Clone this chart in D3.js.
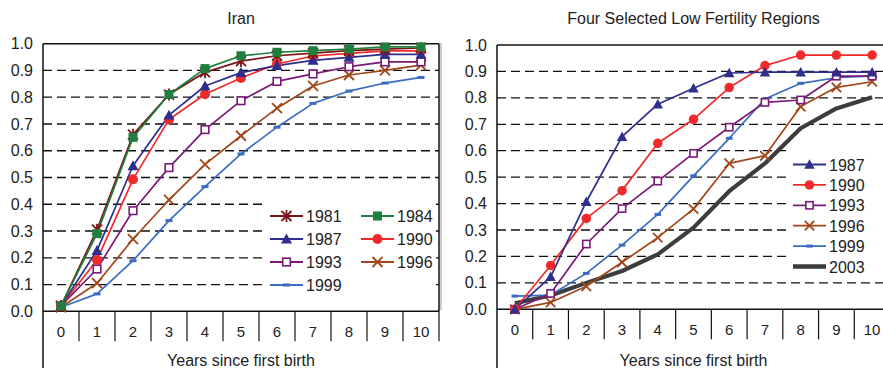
<!DOCTYPE html>
<html>
<head>
<meta charset="utf-8">
<script src="https://cdn.jsdelivr.net/npm/d3@7"></script>
<style>
  body { margin: 0; background: #fff; }
  svg { display: block; font-family: "Liberation Sans", Arial, sans-serif; }
</style>
</head>
<body>
<div id="chart"></div>
<script>
// Data.
const years = [0, 1, 2, 3, 4, 5, 6, 7, 8, 9, 10];
const yTicks = [0, 0.1, 0.2, 0.3, 0.4, 0.5, 0.6, 0.7, 0.8, 0.9, 1.0];

// Iran.
const iran1981 = [0.02, 0.305, 0.66, 0.81, 0.893, 0.935, 0.955, 0.965, 0.974, 0.98, 0.984];
const iran1984 = [0.02, 0.29, 0.65, 0.81, 0.907, 0.955, 0.968, 0.974, 0.98, 0.988, 0.988];
const iran1987 = [0.02, 0.227, 0.544, 0.733, 0.842, 0.892, 0.918, 0.938, 0.949, 0.96, 0.96];
const iran1990 = [0.02, 0.192, 0.493, 0.717, 0.811, 0.872, 0.924, 0.954, 0.964, 0.973, 0.973];
const iran1993 = [0.02, 0.158, 0.376, 0.537, 0.679, 0.787, 0.859, 0.887, 0.914, 0.932, 0.932];
const iran1996 = [0.015, 0.105, 0.27, 0.416, 0.549, 0.656, 0.759, 0.842, 0.883, 0.9, 0.92];
const iran1999 = [0.015, 0.065, 0.189, 0.339, 0.466, 0.588, 0.688, 0.777, 0.823, 0.853, 0.874];

// Four selected low fertility regions.
const low1987 = [0.0, 0.123, 0.407, 0.653, 0.776, 0.836, 0.894, 0.897, 0.897, 0.897, 0.897];
const low1990 = [0.0, 0.166, 0.344, 0.449, 0.628, 0.719, 0.839, 0.922, 0.962, 0.962, 0.962];
const low1993 = [0.0, 0.06, 0.247, 0.381, 0.485, 0.59, 0.689, 0.783, 0.792, 0.882, 0.882];
const low1996 = [0.0, 0.026, 0.087, 0.178, 0.271, 0.38, 0.552, 0.581, 0.767, 0.84, 0.861];
const low1999 = [0.05, 0.054, 0.136, 0.243, 0.359, 0.505, 0.647, 0.796, 0.855, 0.876, 0.883];
const low2003 = [0.023, 0.052, 0.1, 0.145, 0.208, 0.309, 0.447, 0.552, 0.685, 0.76, 0.802];

const colors = {
  1981: '#7d1416', 1984: '#1f7f3e', 1987: '#2e2e8c', 1990: '#f02a2a',
  1993: '#7a1a78', 1996: '#a1471b', 1999: '#3a6cc2', 2003: '#3d3d3d'
};
const markers = {
  1981: 'star', 1984: 'square', 1987: 'triangle', 1990: 'circle',
  1993: 'open', 1996: 'cross', 1999: 'dash', 2003: 'none'
};

const width = 883;
const height = 368;

const svg = d3.select('#chart')
  .append('svg')
  .attr('width', width)
  .attr('height', height);

function drawMarker(g, type, color, x, y, s) {
  if (type === 'square') {
    g.append('rect').attr('x', x - 4.5 * s).attr('y', y - 4.5 * s)
      .attr('width', 9 * s).attr('height', 9 * s).attr('fill', color);
  } else if (type === 'circle') {
    g.append('circle').attr('cx', x).attr('cy', y).attr('r', 5 * s).attr('fill', color);
  } else if (type === 'triangle') {
    const r = 5.5 * s;
    g.append('path')
      .attr('d', `M${x},${y - r}L${x + r},${y + r * 0.8}L${x - r},${y + r * 0.8}Z`)
      .attr('fill', color);
  } else if (type === 'open') {
    g.append('rect').attr('x', x - 3.8 * s).attr('y', y - 3.8 * s)
      .attr('width', 7.6 * s).attr('height', 7.6 * s)
      .attr('fill', '#fff').attr('stroke', color).attr('stroke-width', 1.6);
  } else if (type === 'cross') {
    const r = 5 * s;
    g.append('path')
      .attr('d', `M${x - r},${y - r}L${x + r},${y + r}M${x - r},${y + r}L${x + r},${y - r}`)
      .attr('stroke', color).attr('stroke-width', 1.8);
  } else if (type === 'star') {
    const r = 5 * s;
    g.append('path')
      .attr('d', `M${x - r},${y - r}L${x + r},${y + r}M${x - r},${y + r}L${x + r},${y - r}M${x},${y - r * 1.2}L${x},${y + r * 1.2}`)
      .attr('stroke', color).attr('stroke-width', 1.8);
  } else if (type === 'dash') {
    g.append('rect').attr('x', x - 3.5 * s).attr('y', y - 1.5)
      .attr('width', 7 * s).attr('height', 3).attr('fill', color);
  }
}

function panel(opt) {
  const x = d3.scaleBand().domain(years).range(opt.xRange).padding(0);
  const y = d3.scaleLinear().domain([0, 1]).range(opt.yRange);
  const g = svg.append('g');
  const [x0, x1] = opt.xRange;

  // Title.
  g.append('text')
    .attr('x', (x0 + x1) / 2).attr('y', 24)
    .attr('text-anchor', 'middle').attr('font-size', 16).attr('fill', '#222')
    .text(opt.title);

  // Dashed grid.
  g.append('g').selectAll('line')
    .data(yTicks.filter(d => d > 0 && d < 1))
    .enter().append('line')
    .attr('x1', x0).attr('x2', x1)
    .attr('y1', d => y(d)).attr('y2', d => y(d))
    .attr('stroke', '#111').attr('stroke-width', 1.3)
    .attr('stroke-dasharray', '9,5');

  // Frame: top and right.
  g.append('line').attr('x1', x0).attr('x2', x1).attr('y1', y(1)).attr('y2', y(1))
    .attr('stroke', '#111').attr('stroke-width', 1.5);
  g.append('line').attr('x1', x1).attr('x2', x1).attr('y1', y(1)).attr('y2', y(0))
    .attr('stroke', '#111').attr('stroke-width', 1.5);

  // Y axis.
  const yAxis = d3.axisLeft(y).tickValues(yTicks).tickSize(0).tickPadding(10)
    .tickFormat(d3.format('.1f'));
  const ya = g.append('g').attr('transform', `translate(${x0},0)`).call(yAxis);
  ya.select('.domain').remove();
  ya.selectAll('text').attr('font-size', 16).attr('font-family', 'Liberation Sans, Arial, sans-serif')
    .attr('fill', '#222');
  g.append('line').attr('x1', x0).attr('x2', x0).attr('y1', y(1)).attr('y2', height)
    .attr('stroke', '#111').attr('stroke-width', 1.5);

  // X axis with category separators.
  g.append('line').attr('x1', x0).attr('x2', x1).attr('y1', y(0)).attr('y2', y(0))
    .attr('stroke', '#111').attr('stroke-width', 1.5);
  g.append('g').selectAll('line')
    .data(years.slice(1))
    .enter().append('line')
    .attr('x1', d => x(d)).attr('x2', d => x(d))
    .attr('y1', y(0)).attr('y2', y(0) + 30)
    .attr('stroke', '#111').attr('stroke-width', 1.2);
  g.append('line').attr('x1', x1).attr('x2', x1).attr('y1', y(0)).attr('y2', y(0) + 30)
    .attr('stroke', '#111').attr('stroke-width', 1.2);
  g.append('g').selectAll('text')
    .data(years)
    .enter().append('text')
    .attr('x', d => x(d) + x.bandwidth() / 2)
    .attr('y', y(0) + 26)
    .attr('text-anchor', 'middle').attr('font-size', 15).attr('fill', '#222')
    .text(d => d);
  g.append('text')
    .attr('x', (x0 + x1) / 2).attr('y', 366)
    .attr('text-anchor', 'middle').attr('font-size', 16).attr('fill', '#222')
    .text('Years since first birth');

  // Legend background hides the grid behind it.
  const lg = opt.legend;
  g.append('rect').attr('x', lg.box[0]).attr('y', lg.box[1])
    .attr('width', lg.box[2]).attr('height', lg.box[3]).attr('fill', '#fff');

  // Series.
  const line = d3.line()
    .x((d, i) => x(years[i]) + x.bandwidth() / 2)
    .y(d => y(d));
  opt.series.forEach(s => {
    const c = colors[s.year];
    g.append('path').datum(s.values)
      .attr('d', line).attr('fill', 'none').attr('stroke', c)
      .attr('stroke-width', s.year === 2003 ? 4.2 : 1.7)
      .attr('stroke-linejoin', 'round');
  });
  opt.series.forEach(s => {
    const c = colors[s.year];
    const mg = g.append('g');
    s.values.forEach((v, i) => {
      drawMarker(mg, markers[s.year], c, x(years[i]) + x.bandwidth() / 2, y(v), opt.ms);
    });
  });

  // Legend entries.
  lg.entries.forEach((yr, k) => {
    const col = lg.cols ? k % lg.cols : 0;
    const row = lg.cols ? Math.floor(k / lg.cols) : k;
    const lx = lg.x + col * lg.colW;
    const ly = lg.y + row * lg.rowH;
    const c = colors[yr];
    g.append('line').attr('x1', lx).attr('x2', lx + 33).attr('y1', ly).attr('y2', ly)
      .attr('stroke', c).attr('stroke-width', yr === 2003 ? 4.5 : 1.8);
    drawMarker(g, markers[yr], c, lx + 16.5, ly, opt.ms);
    g.append('text').attr('x', lx + 36).attr('y', ly + 6)
      .attr('font-size', 16).attr('fill', '#222').text(yr);
  });
}

panel({
  title: 'Iran',
  xRange: [43, 439],
  yRange: [311.3, 43.7],
  ms: 1,
  series: [
    { year: 1999, values: iran1999 },
    { year: 1996, values: iran1996 },
    { year: 1993, values: iran1993 },
    { year: 1990, values: iran1990 },
    { year: 1987, values: iran1987 },
    { year: 1981, values: iran1981 },
    { year: 1984, values: iran1984 }
  ],
  legend: {
    box: [264, 194, 172, 105],
    x: 270, y: 216, cols: 2, colW: 91, rowH: 23,
    entries: [1981, 1984, 1987, 1990, 1993, 1996, 1999]
  }
});

// Light separator between the two panels.
svg.append('line').attr('x1', 441).attr('x2', 441).attr('y1', 43).attr('y2', 310)
  .attr('stroke', '#ccc').attr('stroke-width', 2);

panel({
  title: 'Four Selected Low Fertility Regions',
  xRange: [497, 890],
  yRange: [309.3, 45],
  ms: 0.95,
  series: [
    { year: 2003, values: low2003 },
    { year: 1999, values: low1999 },
    { year: 1996, values: low1996 },
    { year: 1993, values: low1993 },
    { year: 1990, values: low1990 },
    { year: 1987, values: low1987 }
  ],
  legend: {
    box: [791, 140, 92, 136],
    x: 793, y: 164.5, cols: 0, colW: 0, rowH: 20.4,
    entries: [1987, 1990, 1993, 1996, 1999, 2003]
  }
});
</script>
</body>
</html>
